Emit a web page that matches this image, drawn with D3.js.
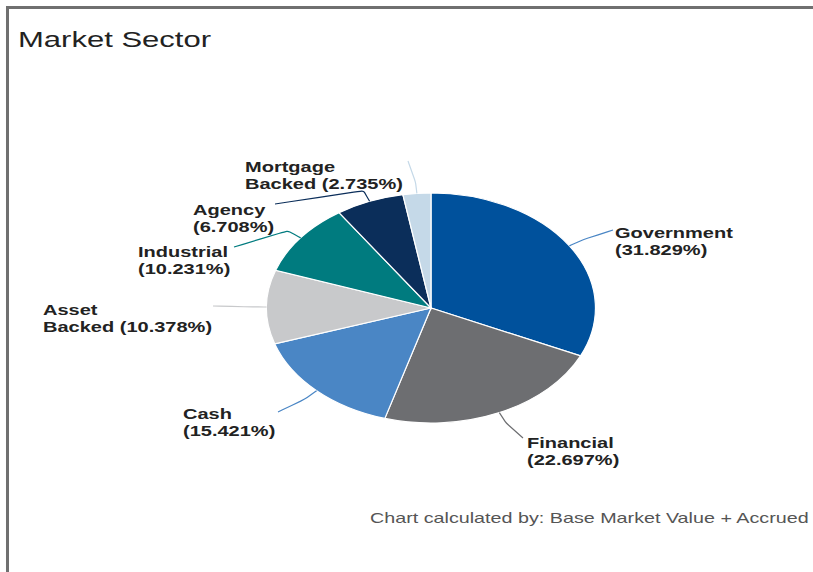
<!DOCTYPE html>
<html>
<head>
<meta charset="utf-8">
<script src="https://cdn.jsdelivr.net/npm/d3@7"></script>
<style>
  body { margin: 0; background: #fff; }
  svg { display: block; }
  .lbl { font-family: "Liberation Sans", Arial, sans-serif; font-weight: bold; font-size: 14px; fill: #222; }
</style>
</head>
<body>
<div id="chart"></div>
<script>
// data
const sectors = ["Government", "Financial", "Cash", "Asset Backed", "Industrial", "Agency", "Mortgage Backed"];
const weights = [31.829, 22.697, 15.421, 10.378, 10.231, 6.708, 2.735];
const colors = ["#00519c", "#6d6e71", "#4a86c5", "#c8c9cb", "#007b7f", "#0b2e5a", "#c5d9e8"];
const lineColors = ["#4a86c5", "#6d6e71", "#4a86c5", "#c8c9cb", "#007b7f", "#0b2e5a", "#c5d9e8"];
// label text lines (first line / second line)
const labelTop = ["Government", "Financial", "Cash", "Asset", "Industrial", "Agency", "Mortgage"];
const labelBottom = ["(31.829%)", "(22.697%)", "(15.421%)", "Backed (10.378%)", "(10.231%)", "(6.708%)", "Backed (2.735%)"];

// the picture is stretched horizontally, so draw in a narrower space
const width = 813, height = 572, sx = 1.43;
const vw = width / sx;
const X = px => px / sx;

// label layout in screen pixels: [text x, first baseline, line end x, line end y]
const labelLayout = [
  [615, 238, 613, 230],
  [527, 448, 523, 438],
  [183, 419, 278, 412],
  [43, 315, 213, 306],
  [138, 257, 234, 247],
  [193, 215, 275, 204],
  [245, 172, 408, 161]
];

const svg = d3.select("#chart")
  .append("svg")
    .attr("width", width)
    .attr("height", height)
    .attr("viewBox", `0 0 ${vw} ${height}`)
    .attr("preserveAspectRatio", "none");

// frame (left and top edges only are visible)
svg.append("path")
  .attr("d", `M${X(7.5)},${height} L${X(7.5)},7.5 L${vw},7.5`)
  .attr("fill", "none")
  .attr("stroke", "#707070")
  .attr("stroke-width", 3)
  .attr("vector-effect", "non-scaling-stroke");

// title
svg.append("text")
  .attr("x", X(18))
  .attr("y", 47)
  .style("font-family", "Liberation Sans, Arial, sans-serif")
  .style("font-size", "21.7px")
  .style("fill", "#222")
  .text("Market Sector");

// pie
const cx = X(431), cy = 308, r = 115;
const pie = d3.pie().sort(null).value(d => d)(weights);
const arc = d3.arc().innerRadius(0).outerRadius(r);

const g = svg.append("g").attr("transform", `translate(${cx},${cy})`);
g.selectAll("path")
  .data(pie)
  .join("path")
    .attr("d", arc)
    .attr("fill", (d, i) => colors[i])
    .attr("stroke", "#fff")
    .attr("stroke-width", 1.2)
    .attr("vector-effect", "non-scaling-stroke");

// leader lines
const edge = (d, k) => {
  const a = (d.startAngle + d.endAngle) / 2;
  return [cx + r * k * Math.sin(a), cy - r * k * Math.cos(a)];
};
const lineGen = d3.line().curve(d3.curveBasis);
svg.append("g")
  .selectAll("path")
  .data(pie)
  .join("path")
    .attr("d", (d, i) => {
      const p0 = edge(d, 1), p1 = edge(d, 1.1);
      const L = labelLayout[i];
      return lineGen([p0, p1, p1, [X(L[2]), L[3]]]);
    })
    .attr("fill", "none")
    .attr("stroke", (d, i) => lineColors[i])
    .attr("stroke-width", 1.2)
    .attr("vector-effect", "non-scaling-stroke");

// labels
const labels = svg.append("g")
  .selectAll("text")
  .data(sectors)
  .join("text")
    .attr("class", "lbl")
    .attr("x", (d, i) => X(labelLayout[i][0]))
    .attr("y", (d, i) => labelLayout[i][1]);
labels.append("tspan").text((d, i) => labelTop[i]);
labels.append("tspan")
  .attr("x", (d, i) => X(labelLayout[i][0]))
  .attr("dy", 17)
  .text((d, i) => labelBottom[i]);

// note (the reference crops it at the right edge, after "Accrued")
svg.append("text")
  .attr("x", X(370))
  .attr("y", 523)
  .style("font-family", "Liberation Sans, Arial, sans-serif")
  .style("font-size", "13.8px")
  .style("fill", "#555")
  .text("Chart calculated by: Base Market Value + Accrued");
</script>
</body>
</html>
